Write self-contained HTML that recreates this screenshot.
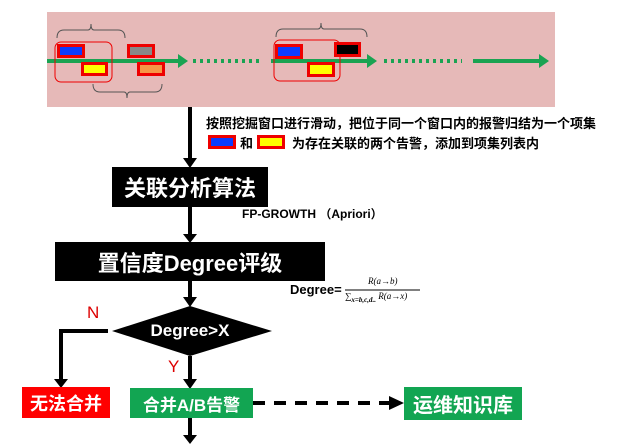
<!DOCTYPE html>
<html><head><meta charset="utf-8"><style>
html,body{margin:0;padding:0;background:#fff;}
body{width:631px;height:444px;position:relative;overflow:hidden;font-family:"Liberation Sans","Noto Sans CJK SC",sans-serif;}
.a{position:absolute;}
.box{position:absolute;color:#fff;font-weight:bold;display:flex;align-items:center;justify-content:center;white-space:nowrap;}
.al{position:absolute;border:3px solid #e00;box-sizing:border-box;}
</style></head><body>
<div class="a" style="left:47px;top:12px;width:508px;height:95px;background:#e6b9b8;"></div>
<svg class="a" style="left:0;top:0" width="631" height="444">
 <g stroke="#1aa352" stroke-width="4">
  <line x1="47" y1="61" x2="180" y2="61"/>
  <line x1="271" y1="61" x2="370" y2="61"/>
  <line x1="473" y1="61" x2="542" y2="61"/>
  <line x1="193" y1="61" x2="262" y2="61" stroke-dasharray="3,4"/>
  <line x1="384" y1="61" x2="462" y2="61" stroke-dasharray="3,4"/>
 </g>
 <path d="M178,54 L188,61 L178,68z M367,54 L377,61 L367,68z M539,54 L549,61 L539,68z" fill="#1aa352"/>
 <g fill="none" stroke="#555" stroke-width="1">
  <path d="M57,38 Q57,30 64,30 L88,30 Q91,30 91,24 Q91,30 94,30 L118,30 Q125,30 125,38"/>
  <path d="M93,84 Q93,92 100,92 L124,92 Q127,92 127,98 Q127,92 130,92 L155,92 Q162,92 162,84"/>
  <path d="M276,37 Q276,29 283,29 L318,29 Q321,29 321,23 Q321,29 324,29 L360,29 Q367,29 367,37"/>
 </g>
 <rect x="55" y="42" width="57" height="40" rx="6" fill="none" stroke="#e00" stroke-width="1"/>
 <rect x="274" y="40" width="66" height="41" rx="6" fill="none" stroke="#e00" stroke-width="1"/>
</svg>
<div class="al" style="left:57px;top:44px;width:28px;height:14px;background:#0b3cff;"></div>
<div class="al" style="left:81px;top:62px;width:27px;height:14px;background:#ffff00;"></div>
<div class="al" style="left:127px;top:44px;width:28px;height:14px;background:#888;"></div>
<div class="al" style="left:137px;top:62px;width:28px;height:14px;background:#f79646;"></div>
<div class="al" style="left:275px;top:44px;width:28px;height:15px;background:#0b3cff;"></div>
<div class="al" style="left:334px;top:42px;width:27px;height:15px;background:#000;"></div>
<div class="al" style="left:307px;top:62px;width:28px;height:15px;background:#ffff00;"></div>

<svg class="a" style="left:0;top:0" width="631" height="444">
 <g stroke="#000" stroke-width="4" fill="none">
  <line x1="190" y1="107" x2="190" y2="160"/>
  <line x1="190" y1="207" x2="190" y2="236"/>
  <line x1="190" y1="281" x2="190" y2="299"/>
  <line x1="190" y1="356" x2="190" y2="381"/>
  <line x1="190" y1="418" x2="190" y2="437"/>
  <polyline points="108,331 61,331 61,381"/>
  <line x1="253" y1="403" x2="390" y2="403" stroke-dasharray="12,9"/>
 </g>
 <g fill="#000">
  <path d="M183,158 L197,158 L190,168z M183,234 L197,234 L190,243z M183,297 L197,297 L190,307z M183,379 L197,379 L190,389z M183,435 L197,435 L190,444z M54,379 L68,379 L61,388z M389,396 L404,403 L389,410z"/>
  <polygon points="112,331 190,306 272,331 190,356"/>
 </g>
 <line x1="345" y1="290" x2="420" y2="290" stroke="#000" stroke-width="1"/>
</svg>

<div class="a" style="left:206px;top:113px;font-size:13px;font-weight:bold;white-space:nowrap;">按照挖掘窗口进行滑动，把位于同一个窗口内的报警归结为一个项集</div>
<div class="al" style="left:208px;top:135px;width:28px;height:14px;background:#0b3cff;"></div>
<div class="a" style="left:240px;top:133px;font-size:13px;font-weight:bold;">和</div>
<div class="al" style="left:257px;top:135px;width:28px;height:14px;background:#ffff00;"></div>
<div class="a" style="left:292px;top:133px;font-size:13px;font-weight:bold;white-space:nowrap;">为存在关联的两个告警，添加到项集列表内</div>

<div class="box" style="left:112px;top:167px;width:156px;height:40px;background:#000;font-size:22px;">关联分析算法</div>
<div class="a" style="left:242px;top:205px;font-size:12px;font-weight:bold;white-space:nowrap;">FP-GROWTH （Apriori）</div>
<div class="box" style="left:55px;top:242px;width:270px;height:39px;background:#000;font-size:22px;">置信度Degree评级</div>
<div class="a" style="left:290px;top:282px;font-size:13px;font-weight:bold;">Degree=</div>
<div class="a" style="left:368px;top:276px;font-size:9px;font-style:italic;font-family:'Liberation Serif',serif;">R(a→b)</div>
<div class="a" style="left:345px;top:291px;font-size:9px;font-style:italic;font-family:'Liberation Serif',serif;white-space:nowrap;">∑<sub style="font-size:7px;font-weight:bold">x=b,c,d..</sub> R(a→x)</div>

<div class="box" style="left:140px;top:320px;width:100px;height:22px;font-size:17px;">Degree&gt;X</div>
<div class="a" style="left:87px;top:303px;font-size:17px;color:#d00;">N</div>
<div class="a" style="left:168px;top:357px;font-size:17px;color:#d00;">Y</div>
<div class="box" style="left:22px;top:387px;width:88px;height:31px;background:#f00;font-size:18px;">无法合并</div>
<div class="box" style="left:130px;top:388px;width:123px;height:30px;background:#12a552;font-size:17px;">合并A/B告警</div>
<div class="box" style="left:404px;top:387px;width:118px;height:33px;background:#12a552;font-size:20px;">运维知识库</div>
</body></html>
